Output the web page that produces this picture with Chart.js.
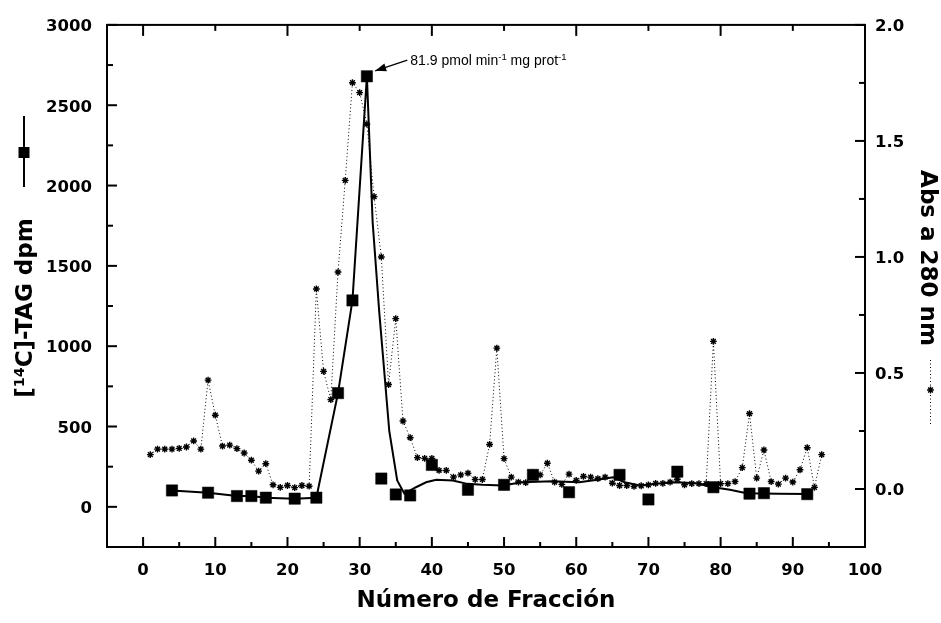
<!DOCTYPE html>
<html><head><meta charset="utf-8">
<script src="https://cdn.jsdelivr.net/npm/chart.js@4/dist/chart.umd.min.js"></script>
<style>html,body{margin:0;padding:0;background:#fff;}canvas{display:block;}</style>
</head><body>
<canvas id="c" width="941" height="623"></canvas>
<script>
// ---- tick labels ----
const xTicks = [0, 10, 20, 30, 40, 50, 60, 70, 80, 90, 100];
const leftTicks = [0, 500, 1000, 1500, 2000, 2500, 3000];
const rightTicks = [0.0, 0.5, 1.0, 1.5, 2.0];

// ---- [14C]-TAG dpm (squares) ----
const tagFraction = [4, 9, 13, 15, 17, 21, 24, 27, 29, 31, 33, 35, 37, 40, 45, 50, 54, 59, 66, 70, 74, 79, 84, 86, 92];
const tagDpm      = [102, 88, 67, 67, 57, 51, 57, 708, 1285, 2680, 176, 77, 71, 261, 106, 137, 199, 91, 199, 46, 219, 122, 82, 85, 79];

// ---- smoothed TAG curve (solid line) ----
const fitFraction = [4, 9, 13, 15, 17, 21, 24, 27, 29, 31, 31.8, 32.7, 34.1, 35.2, 36.2, 37.8, 39.2, 40.6, 42.9, 44.9, 47, 49.8, 52.5, 56.7, 60.4, 63.2, 65.1, 66.7, 68.8, 71.1, 73.9, 76.6, 79, 81.3, 83.6, 88, 92];
const fitDpm      = [102, 88, 67, 67, 57, 51, 57, 708, 1285, 2680, 1771, 1220, 473, 164, 82, 122, 153, 168, 164, 143, 137, 133, 153, 159, 153, 170, 184, 153, 133, 143, 153, 147, 122, 106, 85, 82, 80];

// ---- Abs a 280 nm (stars, dotted) ----
const absFraction = [1, 2, 3, 4, 5, 6, 7, 8, 9, 10, 11, 12, 13, 14, 15, 16, 17, 18, 19, 20,
  21, 22, 23, 24, 25, 26, 27, 28, 29, 30, 31, 32, 33, 34, 35, 36, 37, 38, 39, 40,
  41, 42, 43, 44, 45, 46, 47, 48, 49, 50, 51, 52, 53, 54, 55, 56, 57, 58, 59, 60,
  61, 62, 63, 64, 65, 66, 67, 68, 69, 70, 71, 72, 73, 74, 75, 76, 77, 78, 79, 80,
  81, 82, 83, 84, 85, 86, 87, 88, 89, 90, 91, 92, 93, 94];
const abs280 = [0.148, 0.172, 0.172, 0.172, 0.175, 0.181, 0.207, 0.172, 0.469, 0.318,
  0.185, 0.189, 0.174, 0.155, 0.124, 0.077, 0.109, 0.018, 0.007, 0.015,
  0.006, 0.015, 0.012, 0.862, 0.507, 0.385, 0.935, 1.330, 1.751, 1.708,
  1.572, 1.260, 1.000, 0.450, 0.734, 0.293, 0.221, 0.135, 0.132, 0.132,
  0.080, 0.080, 0.051, 0.061, 0.068, 0.041, 0.041, 0.192, 0.607, 0.131,
  0.051, 0.030, 0.027, 0.070, 0.061, 0.111, 0.030, 0.020, 0.064, 0.037,
  0.054, 0.051, 0.045, 0.051, 0.025, 0.015, 0.015, 0.011, 0.014, 0.018,
  0.024, 0.024, 0.030, 0.042, 0.018, 0.023, 0.023, 0.023, 0.636, 0.023,
  0.023, 0.032, 0.092, 0.325, 0.047, 0.168, 0.032, 0.021, 0.047, 0.030,
  0.083, 0.178, 0.007, 0.148];

// ---- annotation ----
const annotationText = ['81.9 pmol min', '-1', ' mg prot', '-1'];
const annotationAnchor = { tipX: 32.15, tipY: 2714, tailX: 36.6, tailY: 2780 };

const pts = (xs, ys) => xs.map((v, i) => ({ x: v, y: ys[i] }));
const BOLD = 'bold 23px "DejaVu Sans"';
const TICKFONT = { family: 'DejaVu Sans', size: 16.5, weight: 'bold' };

function drawRich(ctx, parts, x, y, size, family, weight, supScale, rise) {
  let cx = x;
  for (const [t, sup] of parts) {
    const s = sup ? size * supScale : size;
    ctx.font = `${weight} ${s}px ${family}`;
    ctx.fillText(t, cx, sup ? y - rise : y);
    cx += ctx.measureText(t).width;
  }
  return cx - x;
}
function measureRich(ctx, parts, size, family, weight, supScale) {
  let w = 0;
  for (const [t, sup] of parts) {
    ctx.font = `${weight} ${sup ? size * supScale : size}px ${family}`;
    w += ctx.measureText(t).width;
  }
  return w;
}
function starMark(ctx, x, y, r) {
  ctx.beginPath();
  for (let k = 0; k < 4; k++) {
    const a = k * Math.PI / 4;
    ctx.moveTo(x - Math.cos(a) * r, y - Math.sin(a) * r);
    ctx.lineTo(x + Math.cos(a) * r, y + Math.sin(a) * r);
  }
  ctx.stroke();
}

const decor = {
  id: 'decor',
  afterDraw(chart) {
    const { ctx, chartArea: a, scales } = chart;
    const X = scales.x, Y = scales.y, Y2 = scales.y2;
    ctx.save();
    ctx.strokeStyle = '#000'; ctx.fillStyle = '#000';
    ctx.lineWidth = 2; ctx.setLineDash([]);
    ctx.strokeRect(a.left, a.top, a.right - a.left, a.bottom - a.top);
    const seg = (x1, y1, x2, y2) => { ctx.beginPath(); ctx.moveTo(x1, y1); ctx.lineTo(x2, y2); ctx.stroke(); };
    for (let v = 0; v <= 100; v += 5) {
      const p = X.getPixelForValue(v);
      seg(p, a.bottom, p, a.bottom - (v % 10 === 0 ? 10 : 5));
    }
    for (let v = 0; v <= 100; v += 10) {
      const p = X.getPixelForValue(v);
      seg(p, a.top, p, a.top + (v % 20 === 0 ? 11 : 6));
    }
    for (let v = -250; v <= 3000; v += 250) {
      const p = Y.getPixelForValue(v);
      seg(a.left, p, a.left + (v % 500 === 0 ? 10 : 6), p);
    }
    for (let v = -0.25; v <= 2.001; v += 0.25) {
      const p = Y2.getPixelForValue(v);
      const major = Math.abs(v * 2 - Math.round(v * 2)) < 1e-6;
      seg(a.right, p, a.right - (major ? 10 : 6), p);
    }

    ctx.font = BOLD; ctx.textAlign = 'center'; ctx.textBaseline = 'alphabetic';
    ctx.fillText('Número de Fracción', (a.left + a.right) / 2, 607);

    ctx.save();
    ctx.translate(32, 308);
    ctx.rotate(-Math.PI / 2);
    ctx.textAlign = 'left';
    const lp = [['[', false], ['14', true], ['C]-TAG dpm', false]];
    const lw = measureRich(ctx, lp, 23, '"DejaVu Sans"', 'bold', 0.62);
    drawRich(ctx, lp, -lw / 2, 0, 23, '"DejaVu Sans"', 'bold', 0.62, 8);
    ctx.restore();
    seg(24, 116, 24, 187);
    ctx.fillRect(18.5, 147, 11, 11);

    ctx.save();
    ctx.translate(921, 258);
    ctx.rotate(Math.PI / 2);
    ctx.font = BOLD; ctx.textAlign = 'center';
    ctx.fillText('Abs a 280 nm', 0, 0);
    ctx.restore();
    ctx.lineWidth = 1;
    ctx.setLineDash([1, 2.5]);
    seg(930.5, 360, 930.5, 425);
    ctx.setLineDash([]);
    ctx.lineWidth = 1.4;
    starMark(ctx, 930.5, 390, 3.4);

    const tx = X.getPixelForValue(annotationAnchor.tipX), ty = Y.getPixelForValue(annotationAnchor.tipY);
    const sx = X.getPixelForValue(annotationAnchor.tailX), sy = Y.getPixelForValue(annotationAnchor.tailY);
    ctx.lineWidth = 1.3;
    seg(sx, sy, tx, ty);
    const ang = Math.atan2(ty - sy, tx - sx);
    ctx.beginPath();
    ctx.moveTo(tx, ty);
    ctx.lineTo(tx - 11 * Math.cos(ang) + 4 * Math.sin(ang), ty - 11 * Math.sin(ang) - 4 * Math.cos(ang));
    ctx.lineTo(tx - 11 * Math.cos(ang) - 4 * Math.sin(ang), ty - 11 * Math.sin(ang) + 4 * Math.cos(ang));
    ctx.closePath(); ctx.fill();
    ctx.textAlign = 'left'; ctx.textBaseline = 'alphabetic';
    const ap = [[annotationText[0], false], [annotationText[1], true], [annotationText[2], false], [annotationText[3], true]];
    drawRich(ctx, ap, sx + 3, sy + 5, 14, '"Liberation Sans"', 'normal', 0.68, 5);
    ctx.restore();
  }
};

new Chart(document.getElementById('c'), {
  type: 'scatter',
  data: {
    datasets: [
      {
        label: 'Abs a 280 nm',
        data: pts(absFraction, abs280),
        yAxisID: 'y2',
        showLine: true,
        borderColor: '#000',
        borderWidth: 1,
        borderDash: [1, 2.5],
        tension: 0,
        pointStyle: 'star',
        pointRadius: 3.4,
        pointBorderWidth: 1.4,
        pointBorderColor: '#000',
        pointBackgroundColor: '#000',
        order: 3
      },
      {
        label: 'ajuste',
        data: pts(fitFraction, fitDpm),
        yAxisID: 'y',
        showLine: true,
        borderColor: '#000',
        borderWidth: 2,
        tension: 0,
        pointRadius: 0,
        order: 2
      },
      {
        label: '[14C]-TAG dpm',
        data: pts(tagFraction, tagDpm),
        yAxisID: 'y',
        showLine: false,
        pointStyle: 'rect',
        pointRadius: 8,
        pointBorderWidth: 0.5,
        pointBorderColor: '#000',
        pointBackgroundColor: '#000',
        order: 1
      }
    ]
  },
  options: {
    responsive: false,
    animation: false,
    devicePixelRatio: 1,
    layout: { padding: { top: 21, left: 0, right: 0, bottom: 0 } },
    plugins: { legend: { display: false }, tooltip: { enabled: false } },
    scales: {
      x: {
        type: 'linear', position: 'bottom', min: -5, max: 100,
        grid: { display: false, drawTicks: false }, border: { display: false },
        afterBuildTicks: s => { s.ticks = xTicks.map(v => ({ value: v })); },
        afterFit: s => { s.height = 76; },
        ticks: { font: TICKFONT, color: '#000', padding: 14, maxRotation: 0, autoSkip: false,
                 callback: v => String(v) }
      },
      y: {
        type: 'linear', position: 'left', min: -250, max: 3000,
        grid: { display: false, drawTicks: false }, border: { display: false },
        afterBuildTicks: s => { s.ticks = leftTicks.map(v => ({ value: v })); },
        afterFit: s => { s.width = 107; },
        ticks: { font: TICKFONT, color: '#000', padding: 15, labelOffset: 2, autoSkip: false,
                 callback: v => String(v) }
      },
      y2: {
        type: 'linear', position: 'right', min: -0.25, max: 2.0,
        grid: { display: false, drawTicks: false }, border: { display: false },
        afterBuildTicks: s => { s.ticks = rightTicks.map(v => ({ value: v })); },
        afterFit: s => { s.width = 76; },
        ticks: { font: TICKFONT, color: '#000', padding: 10, labelOffset: 2, autoSkip: false,
                 callback: v => Number(v).toFixed(1) }
      }
    }
  },
  plugins: [decor]
});
</script>
</body></html>
